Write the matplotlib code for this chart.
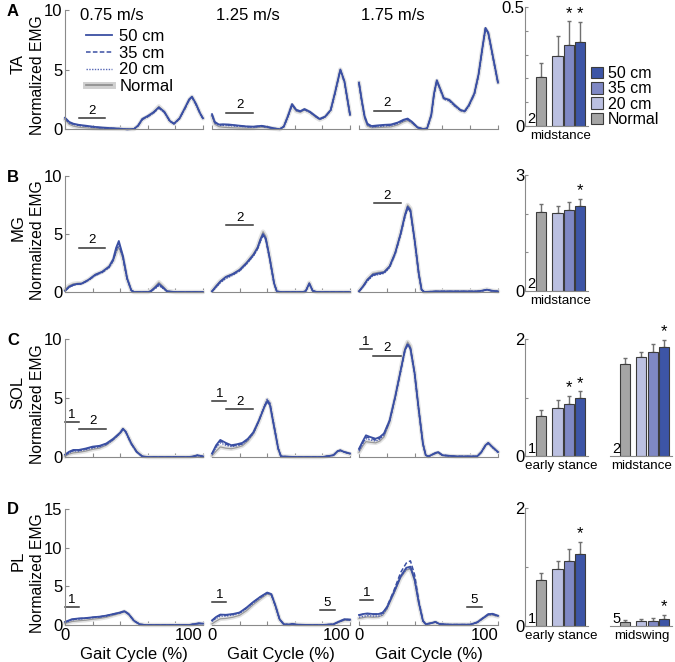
import matplotlib
matplotlib.use('Agg')
import matplotlib.pyplot as plt
from matplotlib.lines import Line2D
from matplotlib.patches import Patch
import numpy as np

plt.rcParams['font.family'] = ['Liberation Sans', 'DejaVu Sans']
plt.rcParams['font.size'] = 10

# ---- EMG curves (gait cycle %, normalized EMG) ----
TA_075_X = [0, 3, 6, 10, 15, 20, 25, 30, 35, 40, 45, 50, 53, 56, 60, 64, 68, 72, 76, 79, 83, 87, 90, 92, 95, 98, 100]
TA_075_50 = [0.95, 0.6, 0.45, 0.35, 0.28, 0.2, 0.14, 0.1, 0.06, 0.03, -0.03, 0.0, 0.3, 0.85, 1.1, 1.4, 1.82, 1.45, 0.68, 0.45, 0.9, 1.8, 2.5, 2.72, 2.1, 1.3, 0.9]
TA_075_35 = [0.9, 0.55, 0.42, 0.32, 0.25, 0.18, 0.12, 0.08, 0.05, 0.02, -0.03, 0.0, 0.28, 0.8, 1.05, 1.35, 1.78, 1.4, 0.65, 0.43, 0.88, 1.75, 2.45, 2.68, 2.05, 1.28, 0.88]
TA_075_20 = [0.85, 0.5, 0.38, 0.28, 0.22, 0.15, 0.1, 0.07, 0.04, 0.02, -0.02, 0.0, 0.25, 0.78, 1.02, 1.32, 1.75, 1.38, 0.63, 0.42, 0.85, 1.72, 2.42, 2.65, 2.0, 1.25, 0.85]
TA_075_N = [0.8, 0.4, 0.25, 0.15, 0.1, 0.06, 0.04, 0.03, 0.02, 0.01, 0.0, 0.0, 0.25, 0.8, 1.05, 1.4, 1.9, 1.45, 0.65, 0.45, 0.9, 1.75, 2.45, 2.7, 2.05, 1.3, 0.9]

TA_125_X = [0, 2, 5, 8, 12, 16, 20, 25, 30, 36, 40, 45, 49, 52, 55, 58, 61, 64, 67, 71, 75, 78, 82, 86, 89, 93, 96, 100]
TA_125_50 = [1.25, 0.6, 0.38, 0.4, 0.38, 0.33, 0.28, 0.22, 0.2, 0.27, 0.18, 0.06, -0.02, 0.2, 1.1, 2.1, 1.62, 1.5, 1.68, 1.45, 1.1, 0.85, 1.05, 1.6, 3.0, 5.0, 4.0, 1.2]
TA_125_35 = [1.2, 0.55, 0.35, 0.36, 0.34, 0.3, 0.25, 0.2, 0.18, 0.25, 0.16, 0.05, -0.02, 0.2, 1.05, 2.05, 1.58, 1.47, 1.65, 1.42, 1.08, 0.83, 1.02, 1.58, 2.95, 4.95, 3.95, 1.2]
TA_125_20 = [1.15, 0.5, 0.3, 0.3, 0.28, 0.25, 0.22, 0.18, 0.16, 0.22, 0.14, 0.04, -0.02, 0.18, 1.0, 2.0, 1.55, 1.45, 1.62, 1.4, 1.05, 0.8, 1.0, 1.55, 2.9, 4.9, 3.9, 1.15]
TA_125_N = [1.1, 0.4, 0.2, 0.15, 0.12, 0.1, 0.08, 0.07, 0.08, 0.15, 0.1, 0.03, -0.02, 0.2, 1.05, 2.0, 1.5, 1.4, 1.6, 1.38, 1.0, 0.78, 1.0, 1.55, 2.95, 5.0, 4.0, 1.2]

TA_175_X = [0, 2, 4, 6, 9, 13, 18, 23, 28, 32, 35, 38, 42, 46, 49, 52, 54, 56, 58, 61, 65, 69, 73, 76, 79, 83, 86, 89, 91, 93, 96, 100]
TA_175_50 = [3.9, 2.4, 1.1, 0.45, 0.25, 0.3, 0.35, 0.38, 0.55, 0.78, 0.88, 0.62, 0.15, 0.0, 0.05, 1.2, 3.0, 4.1, 3.5, 2.6, 2.45, 2.0, 1.6, 1.5, 2.0, 3.0, 4.6, 7.0, 8.5, 8.1, 6.3, 3.9]
TA_175_35 = [3.85, 2.35, 1.05, 0.4, 0.2, 0.25, 0.3, 0.33, 0.5, 0.72, 0.82, 0.58, 0.13, 0.0, 0.05, 1.15, 2.95, 4.05, 3.45, 2.55, 2.4, 1.95, 1.58, 1.48, 1.95, 2.95, 4.55, 6.95, 8.45, 8.05, 6.25, 3.85]
TA_175_20 = [3.8, 2.3, 1.0, 0.35, 0.15, 0.2, 0.25, 0.28, 0.45, 0.68, 0.78, 0.55, 0.12, 0.0, 0.05, 1.1, 2.9, 4.0, 3.4, 2.5, 2.35, 1.9, 1.55, 1.45, 1.9, 2.9, 4.5, 6.9, 8.4, 8.0, 6.2, 3.8]
TA_175_N = [3.9, 2.3, 0.9, 0.25, 0.1, 0.12, 0.15, 0.18, 0.35, 0.6, 0.7, 0.5, 0.1, 0.0, 0.05, 1.15, 2.95, 4.05, 3.5, 2.6, 2.4, 1.95, 1.55, 1.45, 1.95, 2.95, 4.55, 6.95, 8.4, 8.05, 6.3, 3.9]

MG_075_X = [0, 3, 6, 9, 12, 17, 22, 27, 32, 35, 37, 39, 42, 45, 48, 50, 55, 60, 62, 65, 68, 71, 74, 80, 90, 100]
MG_075_50 = [0.1, 0.45, 0.62, 0.7, 0.72, 1.05, 1.5, 1.75, 2.2, 2.85, 3.8, 4.4, 3.1, 1.2, 0.15, 0.0, 0.0, 0.0, 0.05, 0.35, 0.7, 0.4, 0.05, 0.0, 0.0, 0.0]
MG_075_35 = [0.1, 0.42, 0.6, 0.68, 0.7, 1.02, 1.45, 1.7, 2.15, 2.75, 3.6, 4.2, 3.0, 1.15, 0.15, 0.0, 0.0, 0.0, 0.05, 0.3, 0.62, 0.35, 0.05, 0.0, 0.0, 0.0]
MG_075_20 = [0.1, 0.4, 0.58, 0.66, 0.68, 1.0, 1.42, 1.68, 2.1, 2.7, 3.5, 4.0, 2.95, 1.1, 0.12, 0.0, 0.0, 0.0, 0.05, 0.25, 0.55, 0.3, 0.05, 0.0, 0.0, 0.0]
MG_075_N = [0.2, 0.55, 0.7, 0.75, 0.75, 1.05, 1.5, 1.75, 2.2, 2.7, 3.4, 3.85, 2.9, 1.1, 0.15, 0.0, 0.0, 0.0, 0.1, 0.45, 0.85, 0.5, 0.1, 0.0, 0.0, 0.0]

MG_125_X = [0, 3, 6, 10, 15, 20, 25, 30, 33, 35, 37, 39, 42, 45, 47, 50, 60, 66, 68, 70.5, 73, 76, 85, 100]
MG_125_50 = [0.05, 0.5, 0.9, 1.3, 1.55, 1.9, 2.5, 3.2, 3.8, 4.5, 5.0, 4.6, 2.8, 0.75, 0.05, 0.0, 0.0, 0.0, 0.1, 0.75, 0.1, 0.0, 0.0, 0.0]
MG_125_35 = [0.05, 0.45, 0.85, 1.25, 1.5, 1.85, 2.45, 3.15, 3.75, 4.4, 4.9, 4.55, 2.75, 0.72, 0.05, 0.0, 0.0, 0.0, 0.1, 0.7, 0.1, 0.0, 0.0, 0.0]
MG_125_20 = [0.05, 0.4, 0.8, 1.15, 1.45, 1.8, 2.4, 3.1, 3.7, 4.35, 4.85, 4.5, 2.7, 0.7, 0.05, 0.0, 0.0, 0.0, 0.1, 0.65, 0.1, 0.0, 0.0, 0.0]
MG_125_N = [0.1, 0.55, 0.95, 1.3, 1.55, 1.95, 2.55, 3.3, 3.9, 4.6, 5.2, 4.8, 2.9, 0.8, 0.05, 0.0, 0.0, 0.0, 0.1, 0.8, 0.1, 0.0, 0.0, 0.0]

MG_175_X = [0, 3, 6, 10, 14, 18, 22, 26, 30, 33, 35, 37, 40, 43, 45, 47, 55, 65, 75, 85, 89, 92, 95, 100]
MG_175_50 = [0.05, 0.5, 1.05, 1.5, 1.6, 1.7, 2.2, 3.35, 5.05, 6.6, 7.35, 7.05, 4.5, 1.6, 0.2, 0.0, 0.05, 0.05, 0.05, 0.05, 0.12, 0.2, 0.12, 0.05]
MG_175_35 = [0.05, 0.48, 1.0, 1.45, 1.55, 1.65, 2.15, 3.3, 5.0, 6.5, 7.25, 6.95, 4.45, 1.55, 0.2, 0.0, 0.05, 0.05, 0.05, 0.05, 0.12, 0.2, 0.12, 0.05]
MG_175_20 = [0.05, 0.45, 0.95, 1.4, 1.5, 1.6, 2.1, 3.25, 4.95, 6.45, 7.2, 6.9, 4.4, 1.5, 0.18, 0.0, 0.05, 0.05, 0.05, 0.05, 0.1, 0.18, 0.1, 0.05]
MG_175_N = [0.1, 0.55, 1.1, 1.6, 1.7, 1.75, 2.25, 3.4, 5.1, 6.7, 7.5, 7.2, 4.6, 1.6, 0.2, 0.0, 0.05, 0.05, 0.05, 0.05, 0.12, 0.22, 0.12, 0.05]

SOL_075_X = [0, 3, 6, 10, 15, 20, 25, 30, 35, 40, 42, 44, 48, 52, 56, 60, 70, 80, 90, 93, 96, 100]
SOL_075_50 = [0.2, 0.45, 0.6, 0.6, 0.72, 0.88, 0.95, 1.15, 1.55, 2.07, 2.4, 2.15, 1.15, 0.42, 0.05, 0.0, 0.0, 0.0, 0.0, 0.05, 0.15, 0.05]
SOL_075_35 = [0.15, 0.4, 0.55, 0.55, 0.68, 0.82, 0.9, 1.1, 1.5, 2.03, 2.37, 2.12, 1.12, 0.42, 0.05, 0.0, 0.0, 0.0, 0.0, 0.05, 0.15, 0.05]
SOL_075_20 = [0.12, 0.35, 0.5, 0.5, 0.62, 0.75, 0.85, 1.05, 1.45, 2.0, 2.35, 2.1, 1.1, 0.42, 0.05, 0.0, 0.0, 0.0, 0.0, 0.05, 0.12, 0.05]
SOL_075_N = [0.05, 0.25, 0.35, 0.4, 0.5, 0.65, 0.75, 1.0, 1.45, 2.0, 2.38, 2.15, 1.2, 0.5, 0.08, 0.0, 0.0, 0.0, 0.0, 0.05, 0.1, 0.05]

SOL_125_X = [0, 3, 6, 10, 14, 18, 22, 26, 30, 34, 38, 40, 42, 45, 48, 50, 60, 70, 80, 88, 91, 93, 96, 100]
SOL_125_50 = [0.3, 1.0, 1.45, 1.2, 1.0, 1.08, 1.2, 1.55, 2.1, 3.1, 4.25, 4.7, 4.4, 2.55, 0.7, 0.05, 0.0, 0.0, 0.0, 0.15, 0.5, 0.57, 0.42, 0.3]
SOL_125_35 = [0.25, 0.9, 1.35, 1.1, 0.95, 1.0, 1.12, 1.5, 2.05, 3.1, 4.3, 4.8, 4.5, 2.6, 0.7, 0.05, 0.0, 0.0, 0.0, 0.15, 0.5, 0.57, 0.42, 0.3]
SOL_125_20 = [0.2, 0.8, 1.2, 1.0, 0.88, 0.95, 1.08, 1.45, 2.0, 3.05, 4.35, 4.9, 4.6, 2.65, 0.72, 0.05, 0.0, 0.0, 0.0, 0.15, 0.48, 0.55, 0.4, 0.28]
SOL_125_N = [0.1, 0.5, 0.85, 0.75, 0.7, 0.8, 0.95, 1.35, 1.95, 3.0, 4.3, 4.85, 4.55, 2.6, 0.7, 0.05, 0.0, 0.0, 0.0, 0.15, 0.45, 0.55, 0.4, 0.25]

SOL_175_X = [0, 3, 5, 8, 12, 15, 18, 22, 26, 30, 33, 35, 37, 40, 43, 46, 48, 50, 55, 57, 60, 70, 85, 88, 91, 93, 96, 100]
SOL_175_50 = [0.7, 1.4, 1.84, 1.7, 1.55, 1.7, 2.0, 3.1, 5.1, 7.35, 9.05, 9.55, 9.2, 7.1, 4.0, 1.13, 0.15, 0.05, 0.35, 0.42, 0.15, 0.05, 0.05, 0.42, 1.0, 1.2, 0.85, 0.42]
SOL_175_35 = [0.6, 1.3, 1.7, 1.6, 1.45, 1.6, 1.95, 3.05, 5.05, 7.3, 9.0, 9.5, 9.15, 7.05, 3.95, 1.1, 0.15, 0.05, 0.33, 0.4, 0.15, 0.05, 0.05, 0.4, 0.98, 1.18, 0.83, 0.4]
SOL_175_20 = [0.5, 1.2, 1.55, 1.45, 1.35, 1.5, 1.85, 3.0, 5.0, 7.3, 9.05, 9.6, 9.25, 7.1, 3.95, 1.1, 0.15, 0.05, 0.3, 0.38, 0.15, 0.05, 0.05, 0.38, 0.95, 1.15, 0.8, 0.4]
SOL_175_N = [0.4, 1.0, 1.3, 1.25, 1.2, 1.35, 1.7, 2.9, 5.0, 7.4, 9.2, 9.75, 9.4, 7.2, 4.0, 1.15, 0.15, 0.05, 0.3, 0.35, 0.12, 0.05, 0.05, 0.4, 1.0, 1.2, 0.85, 0.42]

PL_075_X = [0, 5, 10, 15, 20, 25, 30, 35, 40, 43, 46, 50, 54, 58, 70, 80, 90, 93, 97, 100]
PL_075_50 = [0.4, 0.75, 0.85, 0.9, 1.0, 1.08, 1.22, 1.42, 1.62, 1.8, 1.45, 0.55, 0.1, 0.0, 0.0, 0.0, 0.0, 0.1, 0.22, 0.18]
PL_075_35 = [0.35, 0.7, 0.82, 0.88, 0.98, 1.05, 1.2, 1.4, 1.6, 1.78, 1.42, 0.55, 0.1, 0.0, 0.0, 0.0, 0.0, 0.1, 0.2, 0.17]
PL_075_20 = [0.3, 0.65, 0.78, 0.85, 0.95, 1.02, 1.15, 1.38, 1.58, 1.75, 1.4, 0.52, 0.1, 0.0, 0.0, 0.0, 0.0, 0.1, 0.2, 0.16]
PL_075_N = [0.2, 0.45, 0.55, 0.62, 0.75, 0.85, 1.0, 1.25, 1.5, 1.72, 1.38, 0.55, 0.1, 0.0, 0.0, 0.0, 0.0, 0.08, 0.18, 0.15]

PL_125_X = [0, 3, 6, 10, 15, 20, 25, 30, 35, 40, 43, 46, 49, 52, 56, 58, 61, 70, 80, 88, 92, 96, 100]
PL_125_50 = [0.6, 1.05, 1.35, 1.32, 1.42, 1.62, 2.25, 3.0, 3.65, 4.2, 4.0, 2.5, 0.75, 0.1, 0.05, 0.15, 0.05, 0.0, 0.0, 0.1, 0.45, 0.75, 0.7]
PL_125_35 = [0.55, 1.0, 1.3, 1.28, 1.38, 1.58, 2.2, 2.95, 3.6, 4.15, 3.95, 2.45, 0.72, 0.1, 0.05, 0.15, 0.05, 0.0, 0.0, 0.1, 0.42, 0.72, 0.68]
PL_125_20 = [0.45, 0.85, 1.15, 1.15, 1.28, 1.5, 2.1, 2.85, 3.5, 4.1, 3.9, 2.4, 0.7, 0.1, 0.05, 0.12, 0.05, 0.0, 0.0, 0.1, 0.4, 0.7, 0.65]
PL_125_N = [0.15, 0.5, 0.8, 0.85, 1.0, 1.25, 1.85, 2.65, 3.35, 4.0, 3.85, 2.4, 0.7, 0.1, 0.05, 0.12, 0.05, 0.0, 0.0, 0.08, 0.35, 0.6, 0.6]

PL_175_X = [0, 3, 6, 10, 14, 17, 20, 25, 30, 34, 37, 40, 43, 46, 48, 52, 55, 58, 65, 80, 85, 90, 93, 96, 100]
PL_175_50 = [1.3, 1.42, 1.5, 1.42, 1.42, 1.6, 2.25, 4.2, 6.3, 7.4, 7.55, 5.9, 2.9, 0.55, 0.1, 0.25, 0.4, 0.12, 0.05, 0.05, 0.35, 1.0, 1.4, 1.45, 1.2]
PL_175_35 = [1.25, 1.38, 1.45, 1.38, 1.38, 1.55, 2.3, 4.4, 6.8, 8.0, 8.3, 6.5, 3.1, 0.55, 0.1, 0.25, 0.4, 0.12, 0.05, 0.05, 0.35, 1.0, 1.38, 1.42, 1.2]
PL_175_20 = [1.0, 1.1, 1.2, 1.15, 1.15, 1.35, 2.1, 4.1, 6.2, 7.2, 7.35, 5.8, 2.85, 0.5, 0.1, 0.22, 0.38, 0.12, 0.05, 0.05, 0.32, 0.95, 1.3, 1.35, 1.12]
PL_175_N = [0.85, 0.95, 1.05, 1.0, 1.05, 1.25, 2.0, 4.0, 6.1, 7.1, 7.25, 5.7, 2.8, 0.5, 0.1, 0.2, 0.35, 0.1, 0.05, 0.05, 0.3, 0.9, 1.25, 1.3, 1.1]

# ---- phase bars drawn on the EMG traces: (start %, end %, level, label) ----
PHASE_TA = [[(10, 29, 0.9, '2')], [(10.5, 30, 1.38, '2')], [(10.6, 30, 1.53, '2')]]
PHASE_MG = [[(10, 29, 3.83, '2')], [(10.5, 30, 5.77, '2')], [(10.6, 30, 7.63, '2')]]
PHASE_SOL = [[(0, 10, 2.97, '1'), (10.4, 30, 2.4, '2')],
             [(0, 10.5, 4.73, '1'), (10.5, 30, 4.05, '2')],
             [(0.5, 9, 9.15, '1'), (10, 30, 8.58, '2')]]
PHASE_PL = [[(0, 10, 2.34, '1')],
            [(0, 10.5, 2.98, '1'), (78.6, 88.8, 1.92, '5')],
            [(0.5, 10, 3.2, '1'), (77.6, 88.4, 2.34, '5')]]

# ---- bar data, order: Normal, 20 cm, 35 cm, 50 cm ----
BAR_ORDER = ['Normal', '20 cm', '35 cm', '50 cm']
TA_MID = [0.204, 0.295, 0.340, 0.351]
TA_MID_ERR = [0.060, 0.084, 0.100, 0.087]
MG_MID = [2.045, 2.03, 2.10, 2.20]
MG_MID_ERR = [0.195, 0.18, 0.21, 0.19]
SOL_EARLY = [0.682, 0.828, 0.896, 0.997]
SOL_EARLY_ERR = [0.10, 0.124, 0.13, 0.107]
SOL_MID = [1.566, 1.685, 1.78, 1.87]
SOL_MID_ERR = [0.107, 0.095, 0.13, 0.11]
PL_EARLY = [0.778, 0.961, 1.10, 1.222]
PL_EARLY_ERR = [0.128, 0.133, 0.206, 0.20]
PL_SWING = [0.061, 0.083, 0.089, 0.122]
PL_SWING_ERR = [0.039, 0.039, 0.044, 0.061]
# significance stars (True = starred)
TA_MID_SIG = [False, False, True, True]
MG_MID_SIG = [False, False, False, True]
SOL_EARLY_SIG = [False, False, True, True]
SOL_MID_SIG = [False, False, False, True]
PL_EARLY_SIG = [False, False, False, True]
PL_SWING_SIG = [False, False, False, True]

SPEEDS = ['0.75 m/s', '1.25 m/s', '1.75 m/s']

C50, C35, C20, CN = '#3d55a6', '#7f88c4', '#bbc0e1', '#a5a5a5'
LINE_BLUE = '#3a4fa3'
SPINE = '#8a8a8a'

W, H = 675, 662
fig = plt.figure(figsize=(W / 100, H / 100), dpi=100)


def box(x0, y0, x1, y1):
    return [x0 / W, 1 - y1 / H, (x1 - x0) / W, (y1 - y0) / H]


COLS = [(65, 203), (212, 350), (359, 498)]
ROWS = [(10, 129), (176, 292), (339, 457), (509, 625)]
BAR_ROWS = [(7, 126), (175, 291), (339, 456), (508, 626)]
BAR_COL1 = (525, 588)
BAR_COL2 = (610, 672)


def emg_axes(r, c, x, s50, s35, s20, sn, ymax, phases, last_row):
    ax = fig.add_axes(box(COLS[c][0], ROWS[r][0], COLS[c][1], ROWS[r][1]))
    ax.plot(x, sn, color='#e2e2e2', lw=3.2, solid_capstyle='round', clip_on=False)
    ax.plot(x, sn, color='#9a9a9a', lw=0.9, clip_on=False)
    ax.plot(x, s20, color='#5566b5', lw=1.0, ls=(0, (1, 1)), clip_on=False)
    ax.plot(x, s35, color=LINE_BLUE, lw=1.1, ls=(0, (3, 1.5)), clip_on=False)
    ax.plot(x, s50, color=LINE_BLUE, lw=1.3, clip_on=False)
    for (p0, p1, lvl, lab) in phases:
        ax.plot([p0, p1], [lvl, lvl], color='#333333', lw=1.1, clip_on=False)
        ax.annotate(lab, ((p0 + p1) / 2, lvl), xytext=(0, 1), textcoords='offset points',
                    ha='center', va='bottom', fontsize=9.5)
    ax.set_xlim(0, 100)
    ax.set_ylim(0, ymax)
    for s in ['top', 'right']:
        ax.spines[s].set_visible(False)
    ax.spines['bottom'].set_color(SPINE)
    ax.spines['left'].set_color(SPINE)
    ax.set_xticks([0, 20, 40, 60, 80, 100])
    if last_row:
        ax.set_xticklabels(['0', '', '', '', '', '100'], fontsize=12)
        ax.get_xticklabels()[-1].set_ha('right')
        ax.get_xticklabels()[-1].set_x(102)
        ax.set_xlabel('Gait Cycle (%)', fontsize=12, labelpad=3)
    else:
        ax.set_xticklabels([])
    ax.tick_params(axis='both', direction='in', length=3, color=SPINE, pad=2)
    if c == 0:
        ax.set_yticks(np.arange(0, ymax + 1, 5))
        ax.tick_params(axis='y', labelsize=12, pad=2)
    else:
        ax.spines['left'].set_visible(False)
        ax.set_yticks([])
    return ax


def bar_axes(r, col, vals, errs, sig, ymax, yticks, phase_lab, cat, left):
    xr = BAR_COL1 if col == 0 else BAR_COL2
    ax = fig.add_axes(box(xr[0], BAR_ROWS[r][0], xr[1], BAR_ROWS[r][1]))
    if col == 0:
        pos = [1.6, 3.2, 4.3, 5.4]
        cat_x = 3.55
    else:
        pos = [1.45, 3.1, 4.25, 5.4]
        cat_x = 3.2
    cols = [CN, C20, C35, C50]
    ax.bar(pos, vals, width=1.0, color=cols, edgecolor='#3c3c3c', linewidth=0.8, zorder=2)
    ax.errorbar(pos, vals, yerr=[np.zeros(4), errs], fmt='none', ecolor='#707070',
                elinewidth=1.0, capsize=1.5, capthick=1.0, zorder=1)
    for p, v, e, s in zip(pos, vals, errs, sig):
        if s:
            ax.text(p, v + e + ymax * 0.005, '*', ha='center', va='bottom', fontsize=12)
    ax.set_xlim(0, 6.2)
    ax.set_ylim(0, ymax)
    for s in ['top', 'right']:
        ax.spines[s].set_visible(False)
    ax.spines['bottom'].set_color(SPINE)
    ax.spines['left'].set_color(SPINE)
    ax.set_xticks([])
    ax.text(0.25, ymax * 0.0, phase_lab, ha='left', va='bottom', fontsize=10.5)
    ax.text(cat_x, -ymax * 0.035, cat, ha='center', va='top', fontsize=9.6)
    if left:
        ax.set_yticks(yticks)
        labs = [''] * len(yticks)
        labs[0] = '0'
        labs[-1] = ('%g' % yticks[-1])
        ax.set_yticklabels(labs, fontsize=12)
        ax.tick_params(axis='y', direction='in', length=2.5, color=SPINE, pad=0.5)
    else:
        ax.spines['left'].set_visible(False)
        ax.set_yticks([])
    return ax


# ---- EMG trace panels ----
ax_a0 = emg_axes(0, 0, TA_075_X, TA_075_50, TA_075_35, TA_075_20, TA_075_N, 10, PHASE_TA[0], False)
emg_axes(0, 1, TA_125_X, TA_125_50, TA_125_35, TA_125_20, TA_125_N, 10, PHASE_TA[1], False)
emg_axes(0, 2, TA_175_X, TA_175_50, TA_175_35, TA_175_20, TA_175_N, 10, PHASE_TA[2], False)
emg_axes(1, 0, MG_075_X, MG_075_50, MG_075_35, MG_075_20, MG_075_N, 10, PHASE_MG[0], False)
emg_axes(1, 1, MG_125_X, MG_125_50, MG_125_35, MG_125_20, MG_125_N, 10, PHASE_MG[1], False)
emg_axes(1, 2, MG_175_X, MG_175_50, MG_175_35, MG_175_20, MG_175_N, 10, PHASE_MG[2], False)
emg_axes(2, 0, SOL_075_X, SOL_075_50, SOL_075_35, SOL_075_20, SOL_075_N, 10, PHASE_SOL[0], False)
emg_axes(2, 1, SOL_125_X, SOL_125_50, SOL_125_35, SOL_125_20, SOL_125_N, 10, PHASE_SOL[1], False)
emg_axes(2, 2, SOL_175_X, SOL_175_50, SOL_175_35, SOL_175_20, SOL_175_N, 10, PHASE_SOL[2], False)
emg_axes(3, 0, PL_075_X, PL_075_50, PL_075_35, PL_075_20, PL_075_N, 15, PHASE_PL[0], True)
emg_axes(3, 1, PL_125_X, PL_125_50, PL_125_35, PL_125_20, PL_125_N, 15, PHASE_PL[1], True)
emg_axes(3, 2, PL_175_X, PL_175_50, PL_175_35, PL_175_20, PL_175_N, 15, PHASE_PL[2], True)

# ---- bar panels ----
ax_b0 = bar_axes(0, 0, TA_MID, TA_MID_ERR, TA_MID_SIG, 0.5, [0, 0.1, 0.2, 0.3, 0.4, 0.5], '2', 'midstance', True)
bar_axes(1, 0, MG_MID, MG_MID_ERR, MG_MID_SIG, 3, [0, 1, 2, 3], '2', 'midstance', True)
bar_axes(2, 0, SOL_EARLY, SOL_EARLY_ERR, SOL_EARLY_SIG, 2, [0, 1, 2], '1', 'early stance', True)
bar_axes(2, 1, SOL_MID, SOL_MID_ERR, SOL_MID_SIG, 2, [0, 1, 2], '2', 'midstance', False)
bar_axes(3, 0, PL_EARLY, PL_EARLY_ERR, PL_EARLY_SIG, 2, [0, 1, 2], '1', 'early stance', True)
bar_axes(3, 1, PL_SWING, PL_SWING_ERR, PL_SWING_SIG, 2, [0, 1, 2], '5', 'midswing', False)

# ---- text: panel letters, muscles, y labels, speeds ----
for letter, muscle, (yt, yb) in zip('ABCD', ['TA', 'MG', 'SOL', 'PL'], ROWS):
    fig.text(7 / W, 1 - (yt + 1) / H, letter, fontsize=12, fontweight='bold', ha='left', va='center')
    fig.text(18 / W, 1 - ((yt + yb) / 2 - 6) / H, muscle, fontsize=12, rotation=90, ha='center', va='center')
    fig.text(37 / W, 1 - ((yt + yb) / 2 + 6) / H, 'Normalized EMG', fontsize=11.3, rotation=90,
             ha='center', va='center')

for sp, xpx in zip(SPEEDS, [80, 216, 361]):
    fig.text(xpx / W, 1 - 16 / H, sp, fontsize=12, ha='left', va='center')

# ---- legends ----
h_lines = [Line2D([], [], color=LINE_BLUE, lw=1.3),
           Line2D([], [], color=LINE_BLUE, lw=1.1, ls=(0, (3, 1.5))),
           Line2D([], [], color='#5566b5', lw=1.0, ls=(0, (1, 1))),
           (Line2D([], [], color='#d0d0d0', lw=5), Line2D([], [], color='#8c8c8c', lw=1.2))]
ax_a0.legend(h_lines, ['50 cm', '35 cm', '20 cm', 'Normal'], loc='upper left',
             bbox_to_anchor=(86 / W, 1 - 29 / H), bbox_transform=fig.transFigure, frameon=False,
             fontsize=12, handlelength=1.55, handletextpad=0.45, labelspacing=0.1, borderpad=0,
             borderaxespad=0)

h_bars = [Patch(facecolor=C50, edgecolor='#3c3c3c', lw=0.8),
          Patch(facecolor=C35, edgecolor='#3c3c3c', lw=0.8),
          Patch(facecolor=C20, edgecolor='#3c3c3c', lw=0.8),
          Patch(facecolor=CN, edgecolor='#3c3c3c', lw=0.8)]
ax_b0.legend(h_bars, ['50 cm', '35 cm', '20 cm', 'Normal'], loc='upper left',
             bbox_to_anchor=(591 / W, 1 - 66 / H), bbox_transform=fig.transFigure, frameon=False,
             fontsize=11.5, handlelength=0.75, handleheight=0.75, handletextpad=0.3,
             labelspacing=0.02, borderpad=0, borderaxespad=0)

fig.savefig('out.png', dpi=100)
